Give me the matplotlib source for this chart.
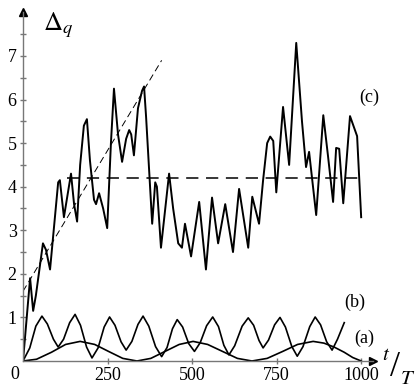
import matplotlib
matplotlib.use("Agg")
import matplotlib.pyplot as plt

plt.rcParams['font.family'] = 'serif'
plt.rcParams['font.serif'] = ['Liberation Serif', 'DejaVu Serif']
plt.rcParams['mathtext.fontset'] = 'stix'

# curve (c): noisy Delta_q
t_c = [0, 21, 30, 38, 59, 68, 80, 104, 109, 121, 142, 151, 160, 169, 180, 189,
       198, 210, 216, 225, 237, 249, 260, 269, 281, 293, 305, 314, 320, 328,
       340, 352, 358, 364, 382, 391, 396, 408, 432, 444, 459, 470, 479, 497,
       521, 541, 559, 577, 598, 621, 639, 666, 678, 698, 710, 722, 731, 740,
       749, 769, 787, 808, 825, 837, 846, 867, 888, 902, 917, 926, 935, 947,
       967, 988, 1000]
d_c = [0.0, 1.9, 1.15, 1.5, 2.7, 2.55, 2.1, 4.1, 4.15, 3.3, 4.3, 3.6, 3.2, 4.5,
       5.4, 5.55, 4.6, 3.7, 3.6, 3.85, 3.5, 3.05, 5.0, 6.25, 5.2, 4.57, 5.1,
       5.3, 5.2, 4.72, 5.8, 6.2, 6.3, 5.6, 3.15, 4.1, 4.0, 2.6, 4.3, 3.5, 2.7,
       2.6, 3.15, 2.4, 3.65, 2.1, 3.75, 2.7, 3.6, 2.5, 3.95, 2.6, 3.77, 3.15,
       4.15, 5.0, 5.15, 5.05, 3.87, 5.83, 4.5, 7.3, 5.5, 4.45, 4.8, 3.35, 5.64,
       4.7, 3.65, 4.89, 4.87, 3.62, 5.62, 5.16, 3.3]

# curve (b): fast oscillation
t_b = [0, 20, 38, 56, 72, 90, 104, 120, 138, 154, 170, 188, 204, 222, 240, 256,
       272, 290, 305, 322, 340, 355, 372, 392, 410, 426, 442, 456, 472, 490,
       507, 524, 543, 561, 578, 594, 609, 626, 648, 666, 682, 698, 710, 726,
       744, 760, 776, 795, 811, 828, 848, 864, 880, 898, 914, 930, 950]
d_b = [0.0, 0.3, 0.8, 1.03, 0.85, 0.5, 0.32, 0.5, 0.88, 1.07, 0.82, 0.32, 0.07,
       0.3, 0.78, 1.01, 0.82, 0.44, 0.25, 0.45, 0.84, 1.03, 0.8, 0.33, 0.1,
       0.31, 0.74, 0.95, 0.78, 0.4, 0.22, 0.42, 0.81, 1.01, 0.79, 0.36, 0.14,
       0.35, 0.8, 0.99, 0.82, 0.47, 0.3, 0.48, 0.83, 1.0, 0.78, 0.33, 0.11,
       0.33, 0.79, 1.01, 0.83, 0.44, 0.25, 0.5, 0.88]

# curve (a): slow oscillation
t_a = [0, 40, 84, 126, 169, 212, 253, 295, 337, 378, 420, 462, 503, 546, 590,
       634, 677, 722, 768, 812, 858, 890, 920, 950, 975, 1000]
d_a = [0.0, 0.04, 0.2, 0.38, 0.45, 0.38, 0.22, 0.06, 0.0, 0.06, 0.22, 0.38,
       0.45, 0.38, 0.22, 0.06, 0.0, 0.06, 0.22, 0.38, 0.45, 0.41, 0.32, 0.2,
       0.08, 0.0]

# dashed guide lines
slope_t = [0, 410]
slope_d = [1.6, 6.9]
level_t = [130, 1000]
level_d = [4.2, 4.2]

W, H = 415, 388
fig = plt.figure(figsize=(W / 100, H / 100), dpi=100)
x0, x1 = 23, 373
y0, y1 = 361, 12.4
ax = fig.add_axes([x0 / W, (H - y0) / H, (x1 - x0) / W, (y0 - y1) / H])
ax.set_xlim(0, 1035)
ax.set_ylim(0, 8.0)

ax.plot(t_c, d_c, color='black', lw=1.4, solid_joinstyle='round')
ax.plot(t_b, d_b, color='black', lw=1.2, solid_joinstyle='round')
ax.plot(t_a, d_a, color='black', lw=1.2)
ax.plot(slope_t, slope_d, color='black', lw=0.7, dashes=(7, 4))
ax.plot(level_t, level_d, color='black', lw=1.1, dashes=(8, 5))

for s in ['top', 'right']:
    ax.spines[s].set_visible(False)
for s in ['left', 'bottom']:
    ax.spines[s].set_color('#777777')
    ax.spines[s].set_linewidth(1.0)
ax.plot([0], [8.0], marker='^', color='black', ms=6, clip_on=False)
ax.plot([1035], [0], marker='>', color='black', ms=6, clip_on=False)

ax.set_xticks([250, 500, 750, 1000])
ax.set_xticklabels(['250', '500', '750', '1000'])
ax.set_yticks([1, 2, 3, 4, 5, 6, 7])
ax.set_yticks([0.5, 1.5, 2.5, 3.5, 4.5, 5.5, 6.5, 7.5], minor=True)
ax.tick_params(which='both', direction='inout', color='#777777', labelsize=13,
               width=1.0, labelfontfamily='Liberation Serif')
ax.tick_params(which='major', length=5, pad=2)
ax.tick_params(which='minor', length=4)

ax.text(-12, -0.12, '0', ha='right', va='top', fontsize=13)
ax.text(60, 7.7, r'$\Delta_q$', fontsize=19, ha='left', va='center')
ax.text(1025, 6.05, '(c)', fontsize=13, ha='center', va='center')
ax.text(980, 1.35, '(b)', fontsize=13, ha='center', va='center')
ax.text(1010, 0.52, '(a)', fontsize=13, ha='center', va='center')

# t/T axis label drawn as three pieces
fig.text(386 / W, 1 - 355 / H, '$t$', fontsize=15, ha='center', va='center')
fig.text(395 / W, 1 - 367 / H, '/', fontsize=26, ha='center', va='center')
fig.text(408 / W, 1 - 379 / H, '$T$', fontsize=15, ha='center', va='center')

fig.savefig('out.png', dpi=100)
